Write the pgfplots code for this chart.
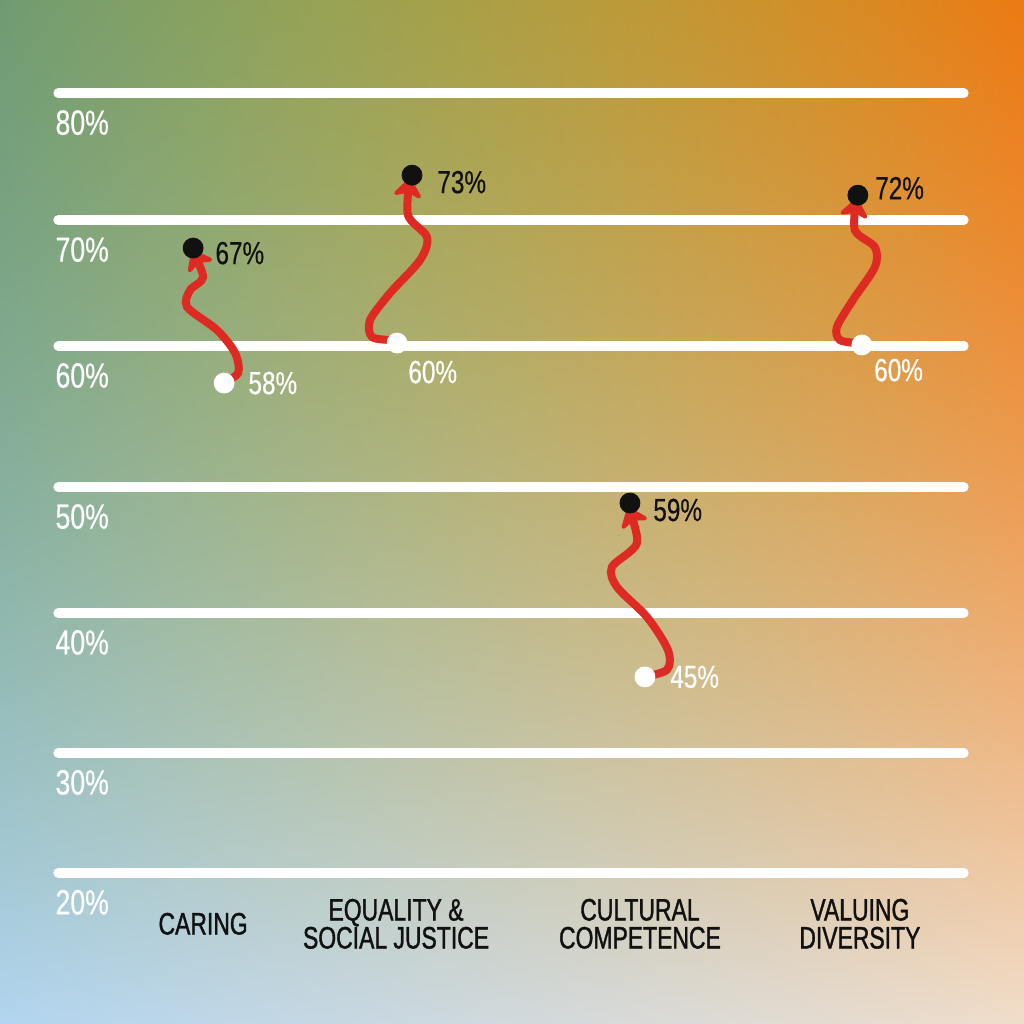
\documentclass[border=0pt]{standalone}
\usepackage{pgfplots}
\pgfplotsset{compat=1.18}
\usetikzlibrary{arrows.meta}
\usepackage{fontspec}
\setmainfont{Liberation Sans}[FakeStretch=0.76,FakeBold=0.4]
\newfontfamily\catfont{Liberation Sans}[FakeStretch=0.74,FakeBold=1.2]
\definecolor{arrowred}{RGB}{221,42,34}
\definecolor{inkblack}{RGB}{17,17,17}
\pgfdeclarefunctionalshading{bg}{\pgfpointorigin}{\pgfpoint{100bp}{100bp}}{}{
25 sub 50 div exch 25 sub 50 div exch
dup 0.5 mul 1.5 exch sub mul
2 copy mul
3 copy 0.243 mul exch -0.259 mul add exch 0.243 mul add 0.698 add
4 1 roll
3 copy -0.162 mul exch -0.227 mul add exch 0.032 mul add 0.835 add
1 index 4 index 1 exch sub mul 0.31 mul add
4 1 roll
-0.220 mul exch -0.494 mul add exch -0.149 mul add 0.941 add
}
\begin{document}
\begin{tikzpicture}
\shade[shading=bg] (0,0) rectangle (512pt,512pt);
\begin{axis}[
  at={(0,0)}, anchor=south west,
  width=512pt, height=512pt, scale only axis,
  xmin=0, xmax=1024, ymin=8.385, ymax=87.154,
  axis line style={draw=none},
  major tick length=0pt,
  clip=false,
  xtick={203,396,640,860},
  xticklabels={CARING, {EQUALITY \&\\SOCIAL JUSTICE}, {CULTURAL\\COMPETENCE}, {VALUING\\DIVERSITY}},
  xticklabel style={align=center, anchor=center, yshift=50pt, text=inkblack, font=\catfont\fontsize{15.5pt}{14pt}\selectfont},
  ytick={20,29.23,40,49.69,60.54,70.23,80},
  yticklabels={20\%,30\%,40\%,50\%,60\%,70\%,80\%},
  yticklabel style={anchor=west, inner sep=0pt, xshift=27.5pt, yshift=-14.75pt, text=white, font=\fontsize{17.5pt}{20pt}\selectfont},
]
% white grid strokes
\addplot[white, line width=4.8pt, line cap=round] coordinates {(58,80) (964,80)};
\addplot[white, line width=4.8pt, line cap=round] coordinates {(58,70.23) (964,70.23)};
\addplot[white, line width=4.8pt, line cap=round] coordinates {(58,60.54) (964,60.54)};
\addplot[white, line width=4.8pt, line cap=round] coordinates {(58,49.69) (964,49.69)};
\addplot[white, line width=4.8pt, line cap=round] coordinates {(58,40) (964,40)};
\addplot[white, line width=4.8pt, line cap=round] coordinates {(58,29.23) (964,29.23)};
\addplot[white, line width=4.8pt, line cap=round] coordinates {(58,20) (964,20)};
% before (white) and after (black) points
\addplot[only marks, mark=*, mark size=5pt, mark options={fill=white, draw=white}]
  coordinates {(224,57.69) (397,60.77) (645,35.08) (862,60.62)};
\addplot[only marks, mark=*, mark size=5pt, mark options={fill=inkblack, draw=inkblack}]
  coordinates {(193,68.08) (412,73.69) (630,48.46) (858,72.15)};
% wavy arrows
\tikzset{warrow/.style={arrowred, line width=4pt, smooth, line cap=round, -{Stealth[length=11pt,width=17pt,inset=3pt,round]}}}
\addplot[warrow]
  coordinates {(222,57.69) (238,58.46) (235,60.00) (217,61.77) (187,63.54) (190,64.85) (203,65.85) (192,67.92)};
\addplot[warrow]
  coordinates {(393,61.00) (372,61.23) (370,62.54) (390,64.62) (420,67.15) (427,68.92) (408,70.60) (410,73.46)};
\addplot[warrow]
  coordinates {(643,35.08) (667,35.62) (668,37.15) (647,39.69) (617,42.00) (612,43.54) (637,45.38) (628,48.15)};
\addplot[warrow]
  coordinates {(858,60.77) (840,61.00) (837,62.00) (853,64.08) (875,66.62) (875,68.15) (855,69.46) (857,71.92)};
% value labels
\tikzset{vlab/.style={anchor=west, inner sep=0pt, font=\fontsize{16pt}{18pt}\selectfont}}
\node[vlab, text=inkblack] at (axis cs:215,67.69) {67\%};
\node[vlab, text=white] at (axis cs:248,57.69) {58\%};
\node[vlab, text=inkblack] at (axis cs:437,73.15) {73\%};
\node[vlab, text=white] at (axis cs:408,58.54) {60\%};
\node[vlab, text=inkblack] at (axis cs:653,47.92) {59\%};
\node[vlab, text=white] at (axis cs:670,35.08) {45\%};
\node[vlab, text=inkblack] at (axis cs:875,72.69) {72\%};
\node[vlab, text=white] at (axis cs:874,58.69) {60\%};
\end{axis}
\end{tikzpicture}
\end{document}
